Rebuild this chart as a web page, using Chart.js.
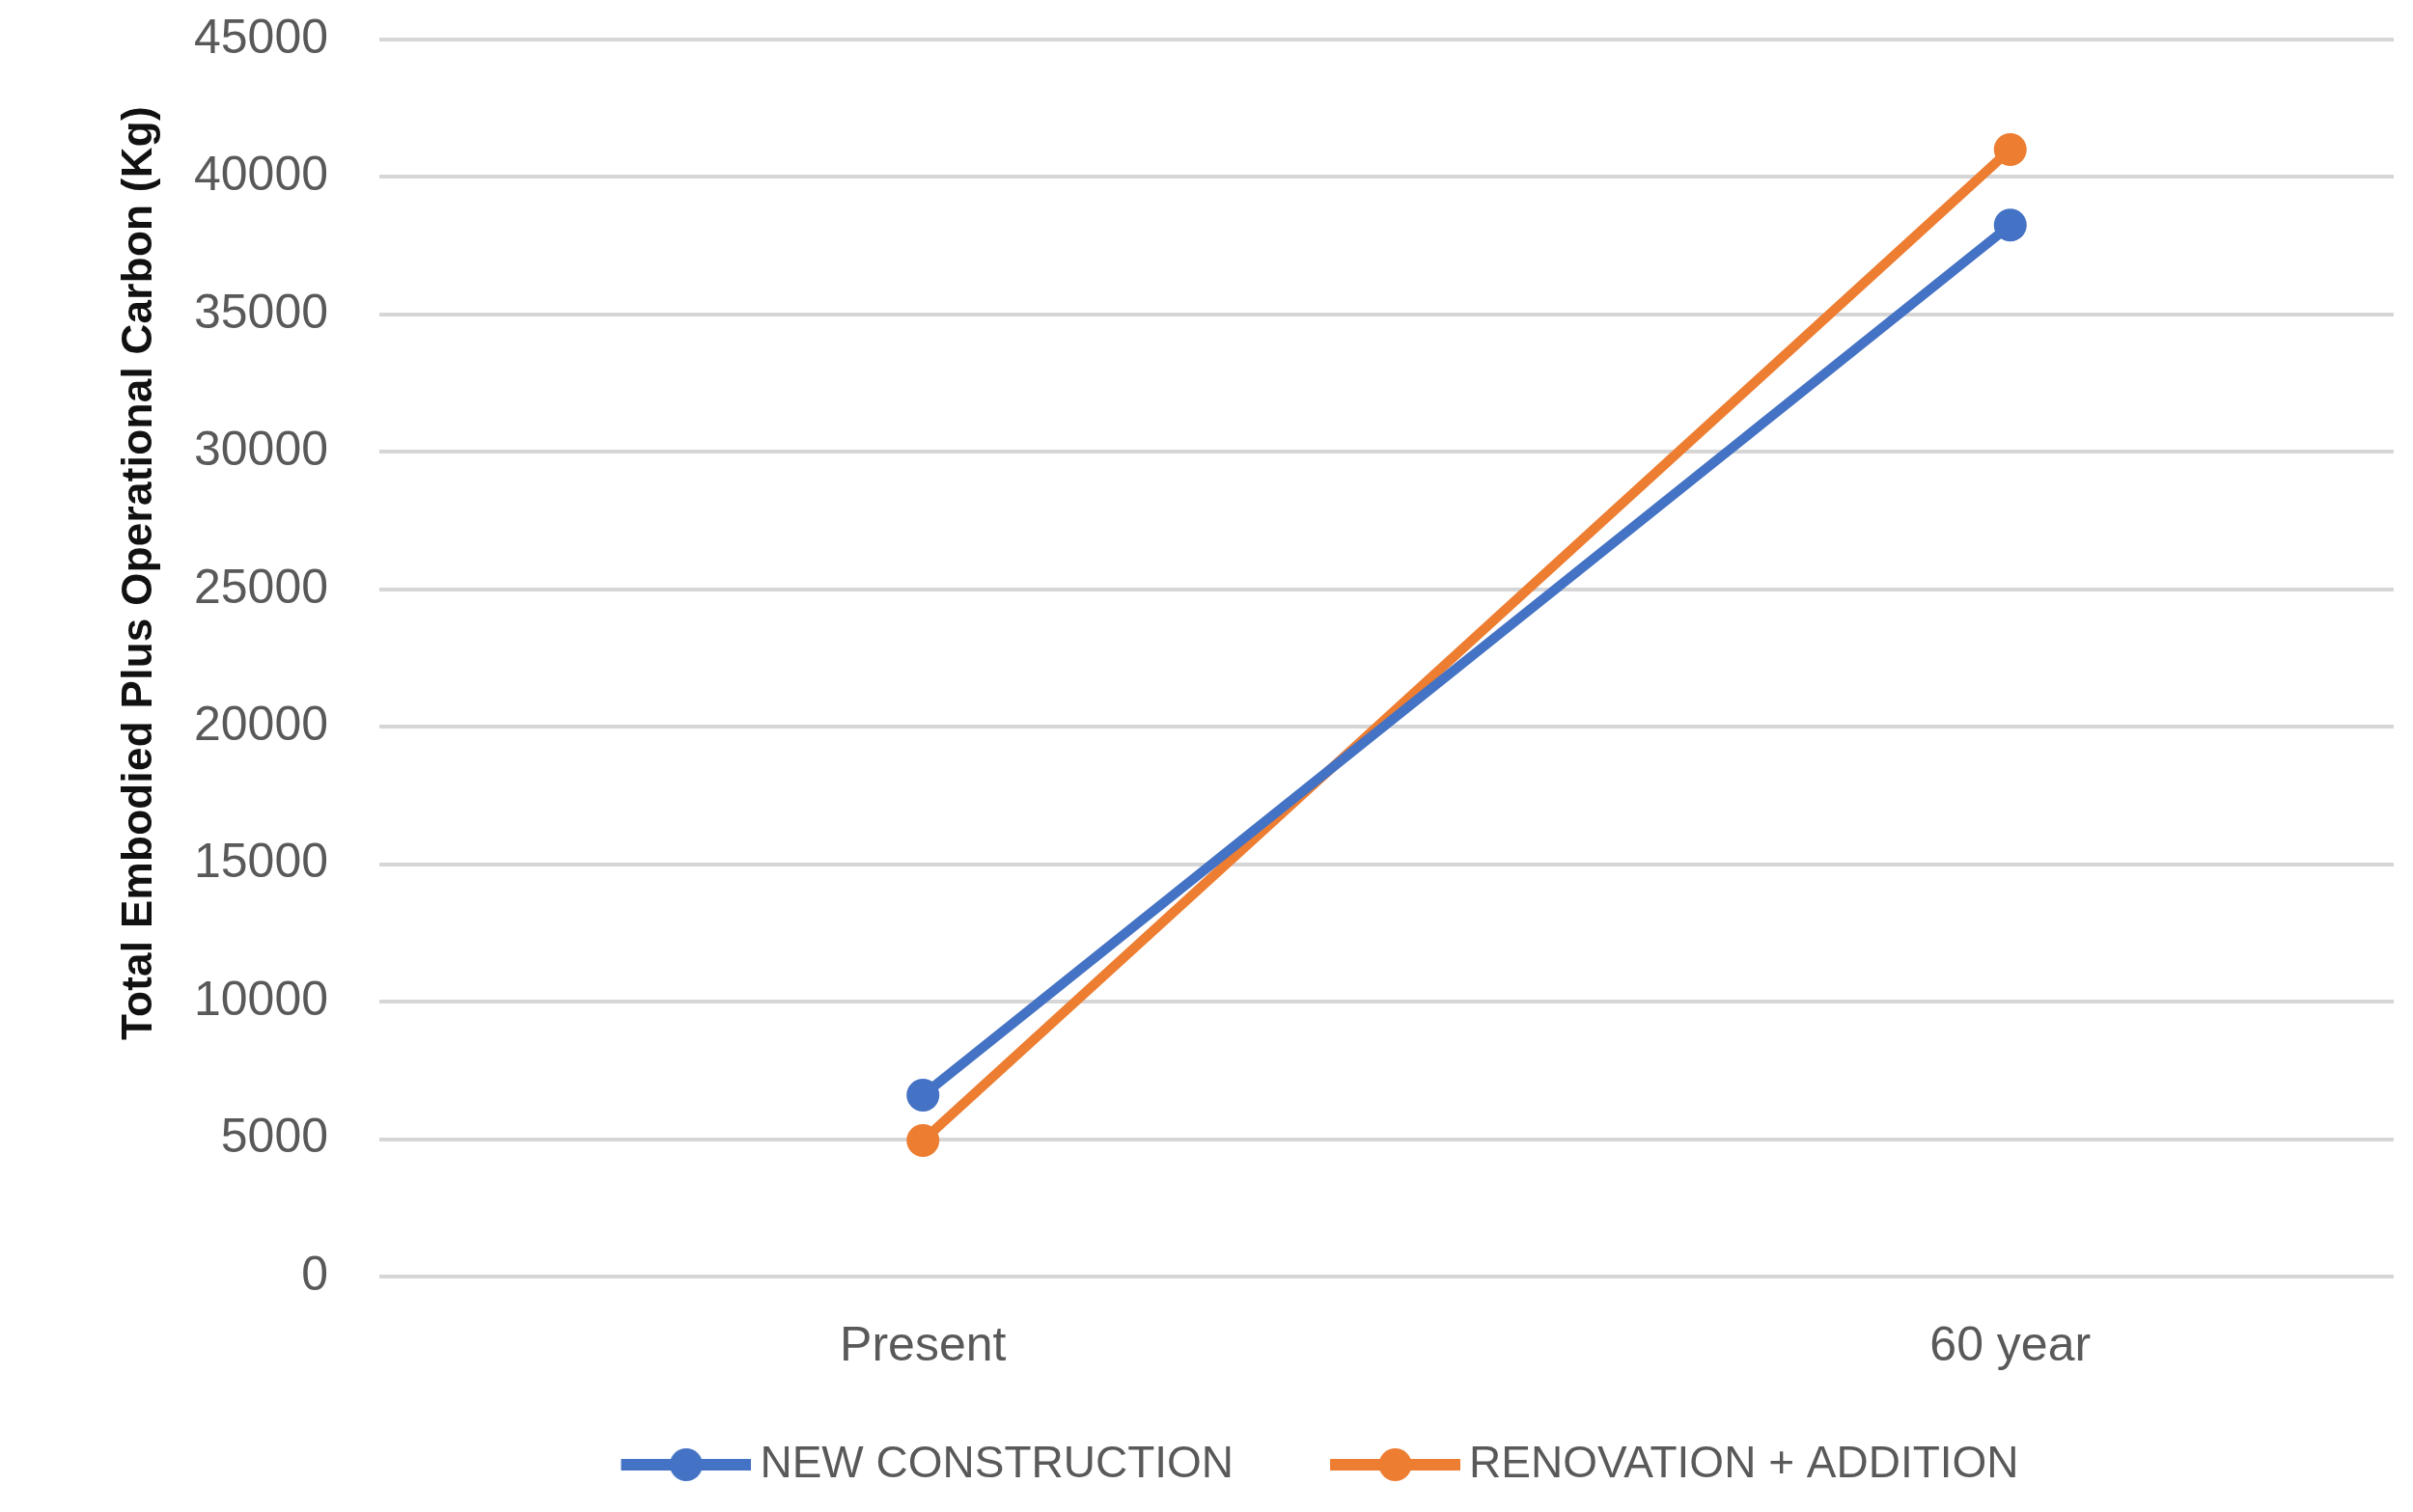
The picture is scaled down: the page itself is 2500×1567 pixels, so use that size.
<!DOCTYPE html>
<html>
<head>
<meta charset="utf-8">
<script src="https://cdn.jsdelivr.net/npm/chart.js@4.4.1/dist/chart.umd.min.js"></script>
<style>
  html, body { margin: 0; padding: 0; background: #ffffff; }
  #wrap { width: 2480px; height: 1567px; overflow: hidden; background: #ffffff; }
</style>
</head>
<body>
<div id="wrap"><canvas id="carbonChart" width="2700" height="1567"></canvas></div>
<script>
// categories and series
var periods = ["Present", "60 year"];
var newConstruction = [6600, 38250];
var renovationAddition = [4950, 41000];
var seriesNames = ["NEW CONSTRUCTION", "RENOVATION + ADDITION"];
var seriesColors = ["#4472C4", "#ED7D31"];

// y axis tick values
var yMin = 0;
var yMax = 45000;
var yStep = 5000;

var axisTitle = "Total Embodied Plus Operational Carbon (Kg)";

// legend marker: short line with a dot in the middle,
// with some empty room on the left so the text sits close to it
function makeMarker(color) {
    var pad = 41;
    var c = document.createElement("canvas");
    c.width = 135 + pad;
    c.height = 40;
    var g = c.getContext("2d");
    g.strokeStyle = color;
    g.lineWidth = 12;
    g.beginPath();
    g.moveTo(pad, 20);
    g.lineTo(pad + 135, 20);
    g.stroke();
    g.fillStyle = color;
    g.beginPath();
    g.arc(pad + 67.5, 20, 17, 0, Math.PI * 2);
    g.fill();
    return c;
}
var markers = seriesColors.map(makeMarker);

// vertical title drawn next to the tick labels
var yTitlePlugin = {
    id: "yTitle",
    afterDraw: function(chart) {
        var ctx = chart.ctx;
        var area = chart.chartArea;
        ctx.save();
        ctx.translate(area.left - 248, area.top + 553);
        ctx.rotate(-Math.PI / 2);
        ctx.font = "bold 44px 'Liberation Sans', Arial, sans-serif";
        ctx.letterSpacing = "0.3px";
        ctx.fillStyle = "#111111";
        ctx.textAlign = "center";
        ctx.textBaseline = "middle";
        ctx.fillText(axisTitle, 0, 0);
        ctx.restore();
    }
};

var tickFont = { family: "'Liberation Sans', Arial, sans-serif", size: 50 };

var ctx = document.getElementById("carbonChart");

var chart = new Chart(ctx, {
    type: "line",
    data: {
        labels: periods,
        datasets: [{
            label: seriesNames[0],
            data: newConstruction,
            borderColor: seriesColors[0],
            backgroundColor: seriesColors[0],
            borderWidth: 10,
            pointRadius: 17,
            pointBorderWidth: 0,
            pointHoverRadius: 17,
            tension: 0
        }, {
            label: seriesNames[1],
            data: renovationAddition,
            borderColor: seriesColors[1],
            backgroundColor: seriesColors[1],
            borderWidth: 10,
            pointRadius: 17,
            pointBorderWidth: 0,
            pointHoverRadius: 17,
            tension: 0
        }]
    },
    options: {
        responsive: false,
        animation: false,
        layout: {
            padding: { top: 41, left: 62, right: 54, bottom: 16 }
        },
        scales: {
            x: {
                offset: true,
                grid: { display: false, drawTicks: false },
                border: { display: false },
                ticks: {
                    padding: 43,
                    color: "#595959",
                    font: tickFont
                },
                afterFit: function(scale) { scale.height = 99; }
            },
            y: {
                min: yMin,
                max: yMax,
                grid: { color: "#d6d6d6", lineWidth: 4, drawTicks: false },
                border: { display: false },
                ticks: {
                    stepSize: yStep,
                    padding: 53,
                    color: "#595959",
                    font: tickFont,
                    callback: function(value) { return String(value); }
                },
                afterFit: function(scale) {
                    // fixed axis width; the top/bottom label room is already in the layout padding
                    scale.width = 331;
                    scale.paddingTop = 0;
                    scale.paddingBottom = 0;
                }
            }
        },
        plugins: {
            legend: {
                position: "bottom",
                labels: {
                    usePointStyle: true,
                    pointStyleWidth: 148,
                    padding: 73,
                    color: "#595959",
                    font: { family: "'Liberation Sans', Arial, sans-serif", size: 46 },
                    generateLabels: function(chart) {
                        var items = Chart.defaults.plugins.legend.labels.generateLabels(chart);
                        items.forEach(function(item, i) {
                            item.pointStyle = markers[i];
                        });
                        return items;
                    }
                }
            },
            tooltip: { enabled: false }
        }
    },
    plugins: [yTitlePlugin]
});
</script>
</body>
</html>
